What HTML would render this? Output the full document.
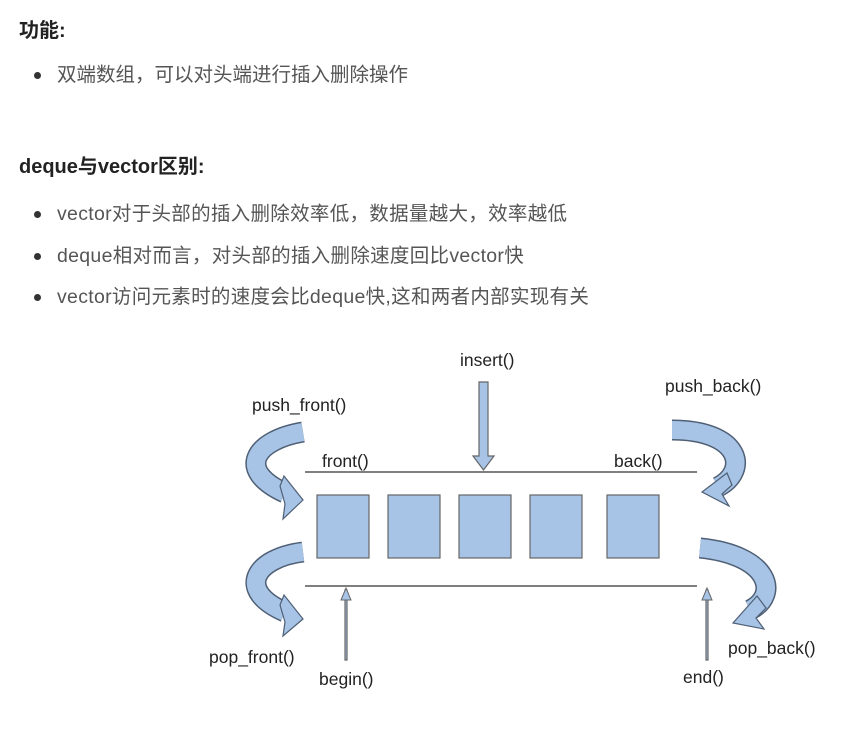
<!DOCTYPE html>
<html><head><meta charset="utf-8"><style>
body{margin:0;width:845px;height:733px;background:#fff;font-family:"Liberation Sans","Noto Sans CJK SC",sans-serif;color:#333;position:relative;overflow:hidden}
.t{position:absolute;white-space:nowrap;line-height:22px}
.h{font-weight:bold;font-size:20px;color:#222}
.b{font-size:19.5px;color:#555}
.dot{position:absolute;width:7px;height:7px;border-radius:50%;background:#333}
</style></head><body>
<div class="t h" style="left:19px;top:20px">功能:</div>
<div class="dot" style="left:34px;top:72px"></div>
<div class="t b" style="left:57px;top:64px">双端数组，可以对头端进行插入删除操作</div>
<div class="t h" style="left:19px;top:156px">deque与vector区别:</div>
<div class="dot" style="left:34px;top:211px"></div>
<div class="t b" style="left:57px;top:203px;letter-spacing:0.3px">vector对于头部的插入删除效率低，数据量越大，效率越低</div>
<div class="dot" style="left:34px;top:253px"></div>
<div class="t b" style="left:57px;top:245px;letter-spacing:0.3px">deque相对而言，对头部的插入删除速度回比vector快</div>
<div class="dot" style="left:34px;top:294px"></div>
<div class="t b" style="left:57px;top:286px;letter-spacing:0.3px">vector访问元素时的速度会比deque快,这和两者内部实现有关</div>
<svg width="845" height="733" style="position:absolute;left:0;top:0" font-family="Liberation Sans,sans-serif" font-size="17.5" fill="#222">
<g stroke="#555" stroke-width="1.5">
<line x1="305" y1="472" x2="697" y2="472"/>
<line x1="305" y1="586" x2="697" y2="586"/>
</g>
<g fill="#a7c4e6" stroke="#666" stroke-width="1.2">
<rect x="317" y="495" width="52" height="63"/>
<rect x="388" y="495" width="52" height="63"/>
<rect x="459" y="495" width="52" height="63"/>
<rect x="530" y="495" width="52" height="63"/>
<rect x="607" y="495" width="52" height="63"/>
<polygon points="479,382 488,382 488,456 494,456 483.5,470 473,456 479,456"/>
<polygon points="345,590 347,590 347,660 345,660"/>
<polygon points="706,590 708,590 708,660 706,660"/>
</g>
<polygon points="346,588 341,600 351,600" fill="#a7c4e6" stroke="#666"/>
<polygon points="707,588 702,600 712,600" fill="#a7c4e6" stroke="#666"/>
<g fill="none" stroke-linecap="butt">
<path d="M303,432 C255,440 235,470 285,493" stroke="#4f5f75" stroke-width="21"/>
<path d="M303,432 C255,440 235,470 285,493" stroke="#a7c4e6" stroke-width="18"/>
<path d="M303,552 C255,558 235,590 285,612" stroke="#4f5f75" stroke-width="21"/>
<path d="M303,552 C255,558 235,590 285,612" stroke="#a7c4e6" stroke-width="18"/>
<path d="M672,430 C740,430 750,470 718,487" stroke="#4f5f75" stroke-width="21"/>
<path d="M672,430 C740,430 750,470 718,487" stroke="#a7c4e6" stroke-width="18"/>
<path d="M700,548 C770,555 780,595 750,610" stroke="#4f5f75" stroke-width="21"/>
<path d="M700,548 C770,555 780,595 750,610" stroke="#a7c4e6" stroke-width="18"/>
</g>
<g fill="#a7c4e6" stroke="#4f5f75" stroke-width="1.2">
<polygon points="284,476 303,500 283,519 285,504 280,486"/>
<polygon points="284,595 303,619 283,636 285,622 280,605"/>
<polygon points="727,473 702,492 729,506 722,494 732,485"/>
<polygon points="757,596 733,623 764,629 756,618 766,608"/>
</g>
<text x="460" y="366">insert()</text>
<text x="252" y="411">push_front()</text>
<text x="665" y="392">push_back()</text>
<text x="322" y="467">front()</text>
<text x="614" y="467">back()</text>
<text x="209" y="663">pop_front()</text>
<text x="728" y="654">pop_back()</text>
<text x="319" y="685">begin()</text>
<text x="683" y="683">end()</text>
</svg>
</body></html>
